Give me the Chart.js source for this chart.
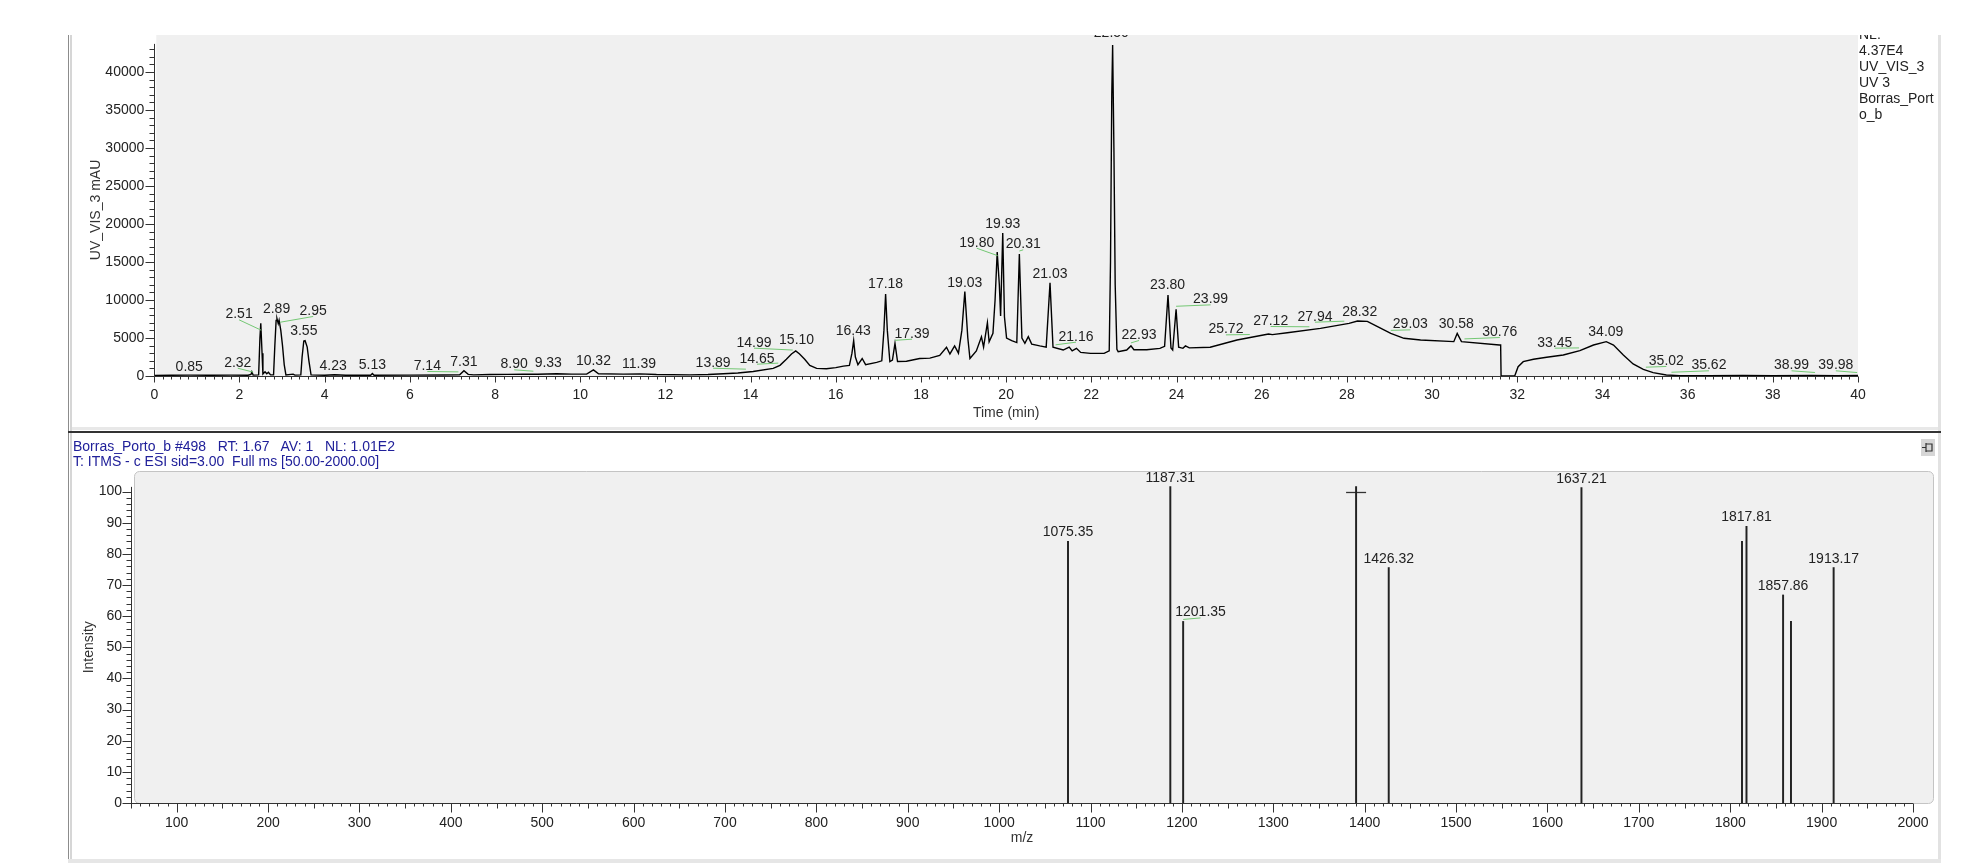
<!DOCTYPE html>
<html>
<head>
<meta charset="utf-8">
<script src="https://cdn.jsdelivr.net/npm/chart.js@4.4.1/dist/chart.umd.min.js"></script>
<style>
  html, body { margin: 0; padding: 0; background: #fff; }
  body { width: 1967px; height: 863px; position: relative; overflow: hidden; font-family: "Liberation Sans", Arial, sans-serif; }
  .ln { position: absolute; }
  canvas { position: absolute; left: 0; }
  #uvChart { top: 0; }
  #msChart { top: 432px; }
  .txt { position: absolute; white-space: pre; font-size: 14px; }
</style>
</head>
<body>
<!-- marco de los paneles -->
<div class="ln" style="left:68px;top:35px;width:1px;height:826px;background:#8c8c8c"></div>
<div class="ln" style="left:70px;top:35px;width:2px;height:826px;background:#d6d6d6"></div>
<div class="ln" style="left:1938px;top:35px;width:3px;height:826px;background:#e2e2e2"></div>
<div class="ln" style="left:72px;top:427px;width:1866px;height:3px;background:#e8e8e8"></div>
<div class="ln" style="left:68px;top:431px;width:1873px;height:2px;background:#333"></div>
<div class="ln" style="left:68px;top:859px;width:1873px;height:4px;background:#e6e6e6"></div>

<canvas id="uvChart" width="1967" height="431"></canvas>
<canvas id="msChart" width="1967" height="431"></canvas>

<div style="position:absolute;left:1859px;top:35px;width:79px;height:100px;overflow:hidden"><div class="txt" style="left:0;top:-9px;color:#222;line-height:16px">NL:
4.37E4
UV_VIS_3
UV 3
Borras_Port
o_b</div></div>
<div class="txt" style="left:73px;top:439px;line-height:15px;color:#20209a">Borras_Porto_b #498   RT: 1.67   AV: 1   NL: 1.01E2
T: ITMS - c ESI sid=3.00  Full ms [50.00-2000.00]</div>
<div class="ln" style="left:1921px;top:439px;width:14px;height:17px;background:#d6d6d6">
  <svg width="14" height="17" viewBox="0 0 14 17"><path d="M1 8.5H5M5 4V13M5 5H11V12H5M11 5V12" stroke="#333" stroke-width="1.2" fill="none"/></svg>
</div>

<script>
const fontFamily = '"Liberation Sans", Arial, sans-serif';

// cromatograma UV_VIS_3 (tiempo en min, absorbancia en mAU)
const timeMin = [
  0.00, 0.40, 0.85, 1.30, 1.80, 2.20, 2.27, 2.29, 2.32, 2.45, 2.48, 2.50, 2.53, 2.55, 2.60, 2.64, 2.68, 2.73,
  2.80, 2.83, 2.86, 2.88, 2.91, 2.93, 2.97, 3.01, 3.05, 3.09, 3.26, 3.30, 3.44, 3.47, 3.51, 3.54, 3.59, 3.63, 3.68,
  4.00, 4.23, 4.50, 5.08, 5.12, 5.16, 6.00, 6.80, 7.17, 7.27, 7.37, 7.50, 7.88, 8.30, 8.66, 9.00, 9.45, 9.80,
  10.15, 10.31, 10.43, 11.01, 11.40, 11.79, 12.57, 13.00, 13.36, 13.70, 14.06, 14.53, 14.69, 14.84, 14.96, 15.06,
  15.15, 15.27, 15.39, 15.55, 15.78, 16.00, 16.18, 16.32, 16.38, 16.42, 16.46, 16.52, 16.62, 16.70, 16.96, 17.08,
  17.13, 17.17, 17.21, 17.27, 17.33, 17.39, 17.45, 17.66, 17.97, 18.21, 18.44, 18.60, 18.68, 18.79, 18.88, 18.96,
  19.03, 19.10, 19.15, 19.30, 19.42, 19.47, 19.56, 19.60, 19.69, 19.74, 19.79, 19.84, 19.87, 19.92, 19.96, 20.01,
  20.13, 20.25, 20.31, 20.37, 20.44, 20.52, 20.60, 20.79, 20.94, 21.03, 21.10, 21.34, 21.48, 21.55, 21.65, 21.75,
  21.98, 22.30, 22.42, 22.45, 22.48, 22.50, 22.53, 22.56, 22.60, 22.63, 22.83, 22.93, 23.00, 23.30, 23.61, 23.72,
  23.80, 23.87, 23.91, 23.99, 24.05, 24.15, 24.21, 24.30, 24.79, 25.42, 26.16, 26.25, 26.60, 27.38, 28.05, 28.25,
  28.48, 28.72, 29.03, 29.34, 29.73, 30.51, 30.59, 30.69, 31.58, 31.61, 31.62, 31.94, 32.02, 32.14, 32.38, 32.69,
  33.08, 33.47, 33.79, 34.09, 34.26, 34.49, 34.72, 34.96, 35.19, 35.50, 35.81, 36.50, 37.30, 38.00, 38.90, 39.50, 40.00
];
const uvMau = [
  80, 100, 110, 90, 110, 100, 200, 550, 120, 150, 5000, 6950, 3000, 250, 550, 300, 500, 150,
  150, 4000, 7300, 7550, 6900, 7350, 6000, 4000, 1500, 150, 250, 120, 150, 2500, 4600, 4650, 3800, 2000, 150,
  100, 160, 100, 100, 320, 100, 110, 140, 150, 700, 220, 150, 200, 220, 250, 230, 300, 250,
  250, 800, 300, 250, 280, 200, 150, 200, 300, 400, 600, 1000, 1400, 2200, 2900, 3300,
  2900, 2200, 1400, 1000, 950, 1100, 1300, 1400, 3000, 4650, 2500, 1500, 2300, 1500, 1800, 2000,
  6000, 10800, 6000, 1900, 2100, 4300, 1900, 1950, 2300, 2350, 2700, 3780, 2900, 3950, 3000, 6000,
  11100, 5000, 2300, 3300, 5150, 3800, 7020, 4500, 5620, 10000, 16300, 12000, 7890, 18800, 7800, 5000,
  4650, 4400, 16050, 5000, 4300, 5170, 4200, 3960, 3800, 12250, 3800, 3420, 3800, 3300, 3640, 3100,
  2980, 2980, 3300, 15000, 37000, 43550, 30000, 12000, 3500, 3200, 3420, 3960, 3450, 3450, 3640, 3900,
  10660, 3700, 3420, 8780, 3800, 3640, 3960, 3700, 3780, 4740, 5530, 5450, 5700, 6270, 6930, 7240,
  7190, 6490, 5610, 4960, 4740, 4520, 5610, 4520, 4080, 4080, 0, 0, 1230, 1890, 2200, 2460,
  2760, 3330, 4080, 4520, 4080, 2760, 1580, 880, 440, 130, 50, 40, 60, 40, 70, 50, 60
];

// etiquetas de picos: texto, posicion del texto (min) y altura de la base del texto (mAU)
const peakLabels = ['0.85', '2.32', '2.51', '2.89', '2.95', '3.55', '4.23', '5.13', '7.14', '7.31', '8.90', '9.33',
  '10.32', '11.39', '13.89', '14.65', '14.99', '15.10', '16.43', '17.18', '17.39', '19.03', '19.80', '19.93',
  '20.31', '21.03', '21.16', '22.50', '22.93', '23.80', '23.99', '25.72', '27.12', '27.94', '28.32', '29.03',
  '30.58', '30.76', '33.45', '34.09', '35.02', '35.62', '38.99', '39.98'];
const labelTime = [0.82, 1.96, 1.99, 2.87, 3.73, 3.51, 4.20, 5.12, 6.41, 7.27, 8.45, 9.25,
  10.31, 11.38, 13.12, 14.15, 14.08, 15.08, 16.41, 17.17, 17.79, 19.03, 19.31, 19.92,
  20.40, 21.03, 21.64, 22.47, 23.12, 23.79, 24.80, 25.16, 26.21, 27.25, 28.30, 29.49,
  30.57, 31.59, 32.88, 34.08, 35.50, 36.50, 38.44, 39.48];
const labelMau = [700, 1220, 7590, 8250, 8030, 5390, 790, 880, 790, 1360, 1010, 1140,
  1450, 1090, 1220, 1750, 3860, 4170, 5390, 11540, 5040, 11750, 17010, 19430,
  16800, 12940, 4650, 44640, 4870, 11410, 9560, 5610, 6710, 7280, 7890, 6270,
  6270, 5260, 3860, 5260, 1450, 880, 880, 880];

// espectro de masas (m/z, intensidad)
const mzValues = [1075.35, 1187.31, 1201.35, 1390.60, 1426.32, 1637.21, 1812.90, 1817.81, 1857.86, 1866.50, 1913.17];
const mzIntensity = [84.0, 101.6, 58.3, 101.6, 75.6, 101.3, 84.0, 88.8, 66.8, 58.3, 75.6];
const mzLabelAt = [1075.35, 1187.31, 1220.4, null, 1426.32, 1637.21, null, 1817.81, 1857.86, null, 1913.17];
const precursorMz = [1390.60];
const precursorLevel = [99.7];

function traceAt(t) {
  for (let i = 1; i < timeMin.length; i++) {
    if (timeMin[i] >= t) {
      const f = (t - timeMin[i - 1]) / (timeMin[i] - timeMin[i - 1]);
      return uvMau[i - 1] + f * (uvMau[i] - uvMau[i - 1]);
    }
  }
  return uvMau[uvMau.length - 1];
}

function isMult(v, step) {
  const r = v / step;
  return Math.abs(r - Math.round(r)) < 1e-6;
}

// marcas con etiqueta fijas, de "from" a "to" cada "step"
function fixedTicks(from, to, step) {
  return function (scale) {
    const list = [];
    for (let v = from; v <= to + 1e-9; v += step) list.push({ value: Math.round(v * 1000) / 1000 });
    scale.ticks = list;
  };
}

/* fondo gris del area de trazado */
const plotBg = {
  id: 'plotBg',
  beforeDraw(chart, args, opts) {
    const { ctx, chartArea: a } = chart;
    ctx.save();
    ctx.fillStyle = '#f0f0f0';
    if (opts.rounded) {
      ctx.beginPath();
      ctx.roundRect(a.left + 3.5, a.top + 0.5, a.right - a.left - 4, a.bottom - a.top, 5);
      ctx.fill();
      ctx.strokeStyle = '#c4c4c4';
      ctx.lineWidth = 1;
      ctx.stroke();
    } else {
      ctx.fillRect(a.left + 2, a.top, a.right - a.left - 2, a.bottom - a.top);
    }
    ctx.restore();
  }
};

/* ejes con marcas mayores y menores, y titulos */
const axisMarks = {
  id: 'axisMarks',
  afterDraw(chart, args, opts) {
    const { ctx } = chart;
    ctx.save();
    ctx.strokeStyle = '#333';
    ctx.lineWidth = 1;
    opts.axes.forEach(ax => {
      const sc = chart.scales[ax.id];
      const n = Math.round((ax.to - ax.from) / ax.minor);
      ctx.beginPath();
      if (sc.isHorizontal()) {
        const y0 = Math.round(sc.top) + 0.5;
        ctx.moveTo(sc.getPixelForValue(ax.from), y0);
        ctx.lineTo(sc.getPixelForValue(ax.lineTo), y0);
        for (let k = 0; k <= n; k++) {
          const v = ax.from + k * ax.minor;
          let len = ax.minorLen;
          if (isMult(v, ax.major)) len = ax.majorLen;
          else if (ax.mid && isMult(v, ax.mid)) len = ax.midLen;
          const px = Math.round(sc.getPixelForValue(v)) + 0.5;
          ctx.moveTo(px, y0);
          ctx.lineTo(px, y0 + len);
        }
      } else {
        const x0 = Math.round(sc.right) + 0.5;
        ctx.moveTo(x0, sc.getPixelForValue(ax.from));
        ctx.lineTo(x0, sc.getPixelForValue(ax.lineTo));
        for (let k = 0; k <= n; k++) {
          const v = ax.from + k * ax.minor;
          const len = isMult(v, ax.major) ? ax.majorLen : ax.minorLen;
          const py = Math.round(sc.getPixelForValue(v)) + 0.5;
          ctx.moveTo(x0, py);
          ctx.lineTo(x0 - len, py);
        }
      }
      ctx.stroke();
    });
    ctx.fillStyle = '#333';
    ctx.font = '14px ' + fontFamily;
    ctx.textAlign = 'center';
    ctx.textBaseline = 'alphabetic';
    const xt = opts.xTitle;
    const xs = chart.scales.x;
    ctx.fillText(xt.text, (xs.getPixelForValue(xt.from) + xs.getPixelForValue(xt.to)) / 2, xt.y);
    const yt = opts.yTitle;
    const ys = chart.scales.y;
    ctx.translate(yt.x, (ys.getPixelForValue(yt.from) + ys.getPixelForValue(yt.to)) / 2);
    ctx.rotate(-Math.PI / 2);
    ctx.textBaseline = 'middle';
    ctx.fillText(yt.text, 0, 0);
    ctx.restore();
  }
};

/* etiquetas de tiempos de retencion con linea guia verde */
const peakLabelPlugin = {
  id: 'peakLabels',
  afterDatasetsDraw(chart) {
    const { ctx, chartArea: a, scales: { x, y } } = chart;
    ctx.save();
    ctx.beginPath();
    ctx.rect(a.left, a.top, a.right - a.left, a.bottom - a.top);
    ctx.clip();
    ctx.font = '14px ' + fontFamily;
    ctx.textAlign = 'center';
    ctx.textBaseline = 'alphabetic';
    peakLabels.forEach((txt, i) => {
      const lx = x.getPixelForValue(labelTime[i]);
      const ly = y.getPixelForValue(labelMau[i]);
      const rt = parseFloat(txt);
      if (Math.abs(labelTime[i] - rt) > 0.085) {
        ctx.strokeStyle = '#74c874';
        ctx.lineWidth = 1;
        ctx.beginPath();
        ctx.moveTo(x.getPixelForValue(rt), y.getPixelForValue(traceAt(rt)) - 3);
        ctx.lineTo(lx, ly + 1.5);
        ctx.stroke();
      }
      ctx.fillStyle = '#222';
      ctx.fillText(txt, lx, ly);
    });
    ctx.restore();
  }
};

/* etiquetas m/z sobre cada linea del espectro */
const mzLabelPlugin = {
  id: 'mzLabels',
  afterDatasetsDraw(chart) {
    const { ctx, scales: { x, y } } = chart;
    ctx.save();
    ctx.font = '14px ' + fontFamily;
    ctx.textAlign = 'center';
    ctx.textBaseline = 'alphabetic';
    mzValues.forEach((mz, i) => {
      if (mzLabelAt[i] === null) return;
      const top = y.getPixelForValue(mzIntensity[i]);
      const lx = x.getPixelForValue(mzLabelAt[i]);
      if (Math.abs(mzLabelAt[i] - mz) > 1) {
        ctx.strokeStyle = '#74c874';
        ctx.lineWidth = 1;
        ctx.beginPath();
        ctx.moveTo(x.getPixelForValue(mz), top - 2);
        ctx.lineTo(lx, top - 3.5);
        ctx.stroke();
      }
      ctx.fillStyle = '#222';
      ctx.fillText(mz.toFixed(2), lx, top - 5);
    });
    ctx.restore();
  }
};

const tickFont = { size: 14, family: fontFamily };
const noGrid = { display: false, drawTicks: false };

document.addEventListener('DOMContentLoaded', function () {
  // panel superior: cromatograma
  new Chart(document.getElementById('uvChart'), {
    type: 'line',
    data: {
      datasets: [{
        data: timeMin.map((t, i) => ({ x: t, y: uvMau[i] })),
        borderColor: '#000',
        borderWidth: 1.4,
        pointRadius: 0,
        tension: 0,
      }],
    },
    options: {
      responsive: false,
      animation: false,
      events: [],
      layout: { padding: { top: 35, right: 109, left: 0, bottom: 0 } },
      plugins: {
        legend: { display: false },
        tooltip: { enabled: false },
        plotBg: { rounded: false },
        axisMarks: {
          axes: [
            { id: 'x', from: 0, to: 40, lineTo: 40, minor: 0.2, major: 2, minorLen: 3, majorLen: 6 },
            { id: 'y', from: 0, to: 43000, lineTo: 43700, minor: 1000, major: 5000, minorLen: 5, majorLen: 9 },
          ],
          xTitle: { text: 'Time (min)', from: 0, to: 40, y: 417 },
          yTitle: { text: 'UV_VIS_3 mAU', x: 96, from: 0, to: 43700 },
        },
      },
      scales: {
        x: {
          type: 'linear', min: 0, max: 40,
          grid: noGrid, border: { display: false },
          ticks: { padding: 11, color: '#222', font: tickFont, maxRotation: 0, autoSkip: false, callback: v => String(v) },
          afterBuildTicks: fixedTicks(0, 40, 2),
          afterFit: s => { s.height = 55; },
        },
        y: {
          type: 'linear', min: 0, max: 44870,
          grid: noGrid, border: { display: false },
          ticks: { padding: 10, color: '#222', font: tickFont, autoSkip: false, callback: v => String(v) },
          afterBuildTicks: fixedTicks(0, 40000, 5000),
          afterFit: s => { s.width = 154.3; },
        },
      },
    },
    plugins: [plotBg, axisMarks, peakLabelPlugin],
  });

  // panel inferior: espectro de masas
  new Chart(document.getElementById('msChart'), {
    type: 'bar',
    data: {
      datasets: [
        {
          data: mzValues.map((mz, i) => ({ x: mz, y: mzIntensity[i] })),
          backgroundColor: '#222',
          barThickness: 1.3,
        },
        {
          type: 'line',
          data: precursorMz.map((mz, i) => ({ x: mz, y: precursorLevel[i] })),
          showLine: false,
          pointStyle: 'line',
          pointRadius: 10,
          pointBorderWidth: 1.3,
          pointBorderColor: '#333',
        },
      ],
    },
    options: {
      responsive: false,
      animation: false,
      events: [],
      layout: { padding: { top: 39, right: 33, left: 0, bottom: 0 } },
      plugins: {
        legend: { display: false },
        tooltip: { enabled: false },
        plotBg: { rounded: true },
        axisMarks: {
          axes: [
            { id: 'x', from: 50, to: 2000, lineTo: 2000, minor: 10, major: 100, mid: 50, minorLen: 3, midLen: 5, majorLen: 9 },
            { id: 'y', from: 0, to: 100, lineTo: 101.5, minor: 2, major: 10, minorLen: 5, majorLen: 9 },
          ],
          xTitle: { text: 'm/z', from: 50, to: 2000, y: 410 },
          yTitle: { text: 'Intensity', x: 89, from: 0, to: 100 },
        },
      },
      scales: {
        x: {
          type: 'linear', min: 50, max: 2023, offset: false,
          grid: { display: false, drawTicks: false, offset: false }, border: { display: false },
          ticks: { padding: 12, color: '#222', font: tickFont, maxRotation: 0, autoSkip: false, callback: v => String(v) },
          afterBuildTicks: fixedTicks(100, 2000, 100),
          afterFit: s => { s.height = 60; },
        },
        y: {
          type: 'linear', min: 0, max: 106.6,
          grid: noGrid, border: { display: false },
          ticks: { padding: 9, color: '#222', font: tickFont, autoSkip: false, callback: v => String(v) },
          afterBuildTicks: fixedTicks(0, 100, 10),
          afterFit: s => { s.width = 131; },
        },
      },
    },
    plugins: [plotBg, axisMarks, mzLabelPlugin],
  });
});
</script>
</body>
</html>
